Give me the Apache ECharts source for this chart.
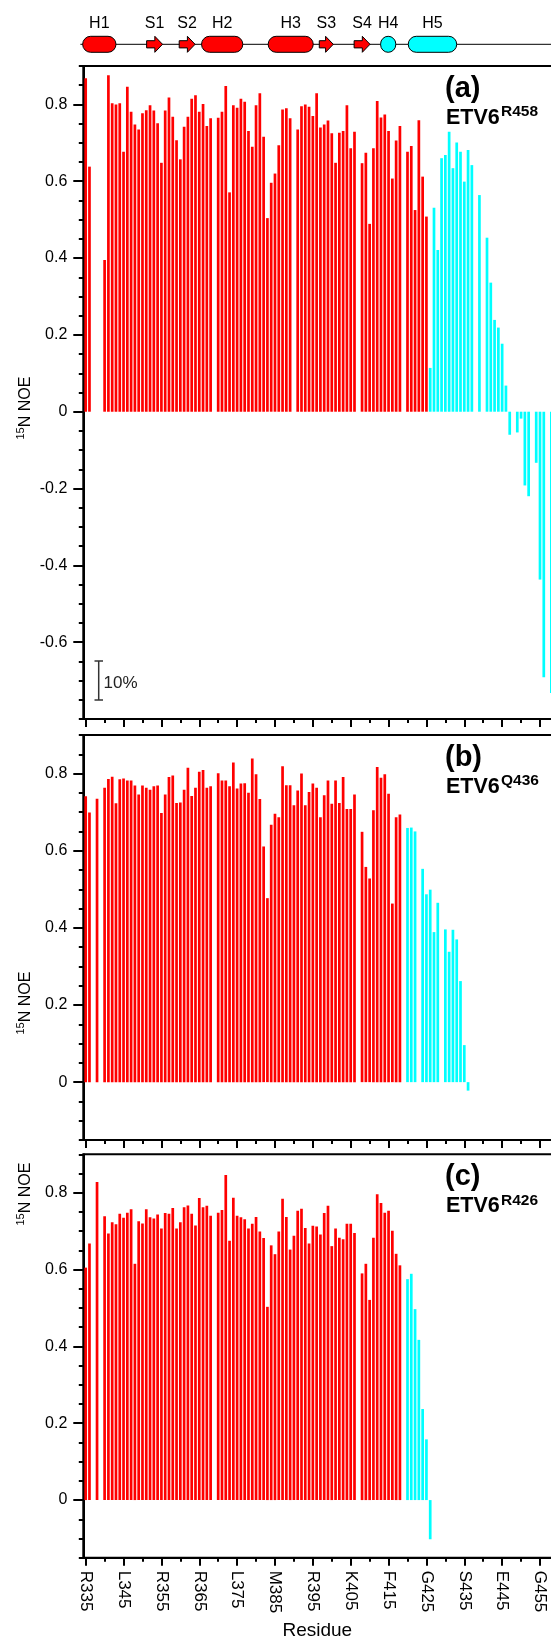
<!DOCTYPE html>
<html>
<head>
<meta charset="utf-8">
<title>15N NOE</title>
<script src="https://cdn.jsdelivr.net/npm/echarts@6.0.0/dist/echarts.min.js"></script>
<style>
html,body{margin:0;padding:0;background:#ffffff;}
#chart{width:551px;height:1640px;}
</style>
</head>
<body>
<div id="chart"></div>
<script>
// ================= DATA =================
const firstResidue = 335;
// 15N NOE per residue, starting at residue 335 (null = no data)
const noeR458 = [
  0.868, 0.638, null, null, null, 0.395, 0.876, 0.803, 0.800, 0.803,
  0.677, 0.846, 0.781, 0.748, 0.735, 0.777, 0.785, 0.798, 0.784, 0.751,
  0.648, 0.784, 0.818, 0.768, 0.707, 0.657, 0.742, 0.768, 0.815, 0.824,
  0.781, 0.801, 0.744, 0.764, null, 0.765, 0.781, 0.848, 0.571, 0.798,
  0.791, 0.815, 0.807, 0.731, 0.690, 0.798, 0.829, 0.716, 0.504, 0.596,
  0.620, 0.694, 0.787, 0.790, 0.764, null, 0.735, 0.795, 0.800, 0.794,
  0.770, 0.829, 0.740, 0.748, 0.758, 0.725, 0.648, 0.726, 0.731, 0.798,
  0.686, 0.729, null, 0.647, 0.674, 0.489, 0.686, 0.809, 0.766, 0.774,
  0.731, 0.607, 0.706, 0.744, null, 0.677, 0.692, 0.525, 0.759, 0.612,
  0.508, 0.114, 0.531, 0.421, 0.660, 0.668, 0.729, 0.634, 0.701, 0.677,
  0.599, 0.681, 0.642, null, 0.564, null, 0.453, 0.336, 0.239, 0.219,
  0.177, 0.068, -0.060, null, -0.054, -0.018, -0.192, -0.220, null, -0.133,
  -0.437, -0.691, null, -0.732
];
const noeQ436 = [
  0.741, 0.699, null, 0.735, null, 0.763, 0.786, 0.792, 0.723, 0.785,
  0.787, 0.782, 0.782, 0.769, 0.746, 0.769, 0.763, 0.758, 0.767, 0.769,
  0.698, 0.746, 0.791, 0.795, 0.724, 0.725, 0.758, 0.815, 0.742, 0.763,
  0.805, 0.809, 0.763, 0.767, null, 0.801, 0.782, 0.782, 0.767, 0.829,
  0.761, 0.774, 0.775, 0.750, 0.839, 0.798, 0.734, 0.611, 0.477, 0.667,
  0.696, 0.687, 0.819, 0.770, 0.770, 0.718, 0.756, 0.800, 0.718, 0.752,
  0.774, 0.763, 0.687, 0.744, 0.782, 0.722, 0.782, 0.724, 0.791, 0.708,
  0.708, 0.746, null, 0.649, 0.558, 0.528, 0.705, 0.817, 0.789, 0.798,
  0.748, 0.463, 0.687, 0.694, null, 0.659, 0.660, 0.650, null, 0.553,
  0.487, 0.499, 0.389, 0.465, null, 0.396, 0.338, 0.395, 0.370, 0.262,
  0.096, -0.022
];
const noeR426 = [
  0.605, 0.668, null, 0.828, null, 0.739, 0.694, 0.723, 0.718, 0.745,
  0.735, 0.748, 0.757, 0.615, 0.726, 0.720, 0.757, 0.736, 0.733, 0.743,
  0.707, 0.747, 0.745, 0.760, 0.707, 0.723, 0.762, 0.767, 0.745, 0.715,
  0.786, 0.762, 0.766, 0.740, null, 0.748, 0.755, 0.846, 0.675, 0.787,
  0.740, 0.736, 0.731, 0.707, 0.719, 0.737, 0.699, 0.682, 0.503, 0.663,
  0.640, 0.699, 0.784, 0.737, 0.652, 0.688, 0.753, 0.758, 0.708, 0.668,
  0.714, 0.712, 0.691, 0.747, 0.766, 0.661, 0.707, 0.683, 0.679, 0.719,
  0.719, 0.695, null, 0.590, 0.615, 0.521, 0.683, 0.796, 0.773, 0.748,
  0.753, 0.701, 0.641, 0.611, null, 0.575, 0.589, 0.497, 0.417, 0.237,
  0.158, -0.102
];
// first residue drawn in the C-terminal (cyan) colour, per construct
const cyanFromR458 = 426;
const cyanFromQ436 = 420;
const cyanFromR426 = 420;

const panelTags = ['(a)', '(b)', '(c)'];
const constructNames = ['R458', 'Q436', 'R426'];

const xTickResidues = [335, 345, 355, 365, 375, 385, 395, 405, 415, 425, 435, 445, 455];
const xTickLabels = ['R335', 'L345', 'R355', 'R365', 'L375', 'M385', 'R395', 'K405', 'F415', 'G425', 'S435', 'E445', 'G455'];
const xMinorTicks = [340, 350, 360, 370, 380, 390, 400, 410, 420, 430, 440, 450, 460];
const yLabelsA = [-0.6, -0.4, -0.2, 0, 0.2, 0.4, 0.6, 0.8];
const yLabelsBC = [0, 0.2, 0.4, 0.6, 0.8];

// secondary structure (residue ranges)
const ssLabels = ['H1', 'S1', 'S2', 'H2', 'H3', 'S3', 'S4', 'H4', 'H5'];
const ssStart  = [334.2, 351.1, 359.7, 365.6, 383.2, 396.7, 405.9, 412.9, 420.2];
const ssEnd    = [343.0, 355.3, 363.9, 376.5, 395.1, 400.4, 410.1, 416.9, 433.0];
const ssKind   = ['helix', 'strand', 'strand', 'helix', 'helix', 'strand', 'strand', 'helix', 'helix'];
const ssDomain = ['ets', 'ets', 'ets', 'ets', 'ets', 'ets', 'ets', 'cterm', 'cterm'];

// ================= LAYOUT / STYLE =================
const RED = '#FF0000', CYAN = '#00FFFF';
const FONT = '"Liberation Sans", Arial, Helvetica, sans-serif';
const X_MIN = 334.37, X_MAX = 460;
const PX_PER_RES = 3.786;
const LEFT = 83.3;
const GRID_W = (X_MAX - X_MIN) * PX_PER_RES;

function toPoints(arr, cyanFrom) {
  const pts = [];
  arr.forEach((v, i) => { if (v !== null) pts.push([firstResidue + i, v]); });
  return { pts, cyanFrom };
}

const panels = [
  { top: 66, height: 653, min: -0.8, max: 0.9, src: toPoints(noeR458, cyanFromR458), labels: yLabelsA, titleY: 408 },
  { top: 735, height: 405, min: -0.15, max: 0.9, src: toPoints(noeQ436, cyanFromQ436), labels: yLabelsBC, titleY: 1003 },
  { top: 1154.3, height: 403.4, min: -0.15, max: 0.9, src: toPoints(noeR426, cyanFromR426), labels: yLabelsBC, titleY: 1194 }
];

function minorY(min, max) {
  const out = [];
  for (let k = Math.round(min / 0.05); k <= Math.round(max / 0.05); k++) out.push(+(k * 0.05).toFixed(2));
  return out;
}

const axisLineStyle = { color: '#000', width: 2 };
const tickStyle = { color: '#000', width: 2 };

const grids = [], xAxes = [], yAxes = [], series = [], graphics = [];

panels.forEach((p, i) => {
  grids.push({ left: LEFT, top: p.top, width: GRID_W, height: p.height, show: true, borderColor: '#000', borderWidth: 2, backgroundColor: 'transparent', containLabel: false, outerBoundsMode: 'none' });
  xAxes.push({
    gridIndex: i, type: 'value', min: X_MIN, max: X_MAX, position: 'bottom',
    axisLine: { show: true, onZero: false, lineStyle: axisLineStyle },
    axisTick: { show: true, length: 8, customValues: xTickResidues, lineStyle: tickStyle },
    axisLabel: {
      show: i === 2, customValues: xTickResidues, rotate: -90, margin: 13,
      fontSize: 17, fontFamily: FONT, color: '#000',
      formatter: v => { const k = xTickResidues.indexOf(Math.round(v)); return k >= 0 ? xTickLabels[k] : ''; }
    },
    splitLine: { show: false }
  });
  xAxes.push({
    gridIndex: i, type: 'value', min: X_MIN, max: X_MAX, position: 'bottom',
    axisLine: { show: false, onZero: false },
    axisTick: { show: true, length: 4, customValues: xMinorTicks, lineStyle: tickStyle },
    axisLabel: { show: false }, splitLine: { show: false }
  });
  yAxes.push({
    gridIndex: i, type: 'value', min: p.min, max: p.max, position: 'left',
    axisLine: { show: true, onZero: false, lineStyle: axisLineStyle },
    axisTick: { show: true, length: 10, customValues: p.labels, lineStyle: tickStyle },
    axisLabel: {
      show: true, customValues: p.labels, margin: 16, fontSize: 16, fontFamily: FONT, color: '#000',
      formatter: v => String(+(+v).toFixed(2))
    },
    splitLine: { show: false }
  });
  yAxes.push({
    gridIndex: i, type: 'value', min: p.min, max: p.max, position: 'left',
    axisLine: { show: false, onZero: false },
    axisTick: { show: true, length: 4.5, customValues: minorY(p.min, p.max), lineStyle: tickStyle },
    axisLabel: { show: false }, splitLine: { show: false }
  });
  const cyanFrom = p.src.cyanFrom;
  series.push({
    type: 'bar', xAxisIndex: 2 * i, yAxisIndex: 2 * i, data: p.src.pts,
    barWidth: 2.7, silent: true, animation: false,
    itemStyle: { color: prm => (prm.value[0] >= cyanFrom ? CYAN : RED) }
  });

  // panel tag and construct label
  graphics.push({ type: 'text', x: 445, y: p.top + 23, style: { text: panelTags[i], font: 'bold 29px ' + FONT, fill: '#000', align: 'left', verticalAlign: 'middle', textAlign: 'left', textVerticalAlign: 'middle' } });
  graphics.push({ type: 'text', x: 446, y: p.top + 52, style: { text: 'ETV6', font: 'bold 21.5px ' + FONT, fill: '#000', align: 'left', verticalAlign: 'middle', textAlign: 'left', textVerticalAlign: 'middle' } });
  graphics.push({ type: 'text', x: 501, y: p.top + 46, style: { text: constructNames[i], font: 'bold 15.5px ' + FONT, fill: '#000', align: 'left', verticalAlign: 'middle', textAlign: 'left', textVerticalAlign: 'middle' } });

  // y axis title 15N NOE (rotated)
  graphics.push({
    type: 'group', x: 25.5, y: p.titleY, rotation: Math.PI / 2,
    children: [
      { type: 'text', x: -31.5, y: -5, style: { text: '15', font: '11px ' + FONT, fill: '#000', align: 'left', verticalAlign: 'middle', textAlign: 'left', textVerticalAlign: 'middle' } },
      { type: 'text', x: -19.3, y: 0, style: { text: 'N NOE', font: '16px ' + FONT, fill: '#000', align: 'left', verticalAlign: 'middle', textAlign: 'left', textVerticalAlign: 'middle' } }
    ]
  });
});

// secondary-structure strip
grids.push({ left: LEFT, top: 36.3, width: GRID_W, height: 16, show: false, containLabel: false, outerBoundsMode: 'none' });
xAxes.push({ gridIndex: 3, type: 'value', min: X_MIN, max: X_MAX, show: false });
yAxes.push({ gridIndex: 3, type: 'value', min: 0, max: 1, show: false });

function renderSS(params, api) {
  const i = params.dataIndex;
  const p1 = api.coord([api.value(0), 0.5]);
  const p2 = api.coord([api.value(1), 0.5]);
  const x1 = p1[0], x2 = p2[0], yc = p1[1];
  const fill = ssDomain[i] === 'ets' ? RED : CYAN;
  const kids = [];
  if (i === 0) {
    kids.push({ type: 'line', shape: { x1: api.coord([333.6, 0.5])[0], y1: yc, x2: api.coord([X_MAX, 0.5])[0], y2: yc }, style: { stroke: '#000', lineWidth: 1 } });
  }
  if (ssKind[i] === 'helix') {
    const h = 16, w = x2 - x1;
    kids.push({ type: 'rect', shape: { x: x1, y: yc - h / 2, width: w, height: h, r: Math.min(h, w) / 2 }, style: { fill: fill, stroke: '#000', lineWidth: 1 } });
  } else {
    const hx = x2 - 7.7;
    kids.push({ type: 'polygon', shape: { points: [[x1, yc - 3.6], [hx, yc - 3.6], [hx, yc - 8], [x2, yc], [hx, yc + 8], [hx, yc + 3.6], [x1, yc + 3.6]] }, style: { fill: fill, stroke: '#000', lineWidth: 1 } });
  }
  kids.push({ type: 'text', x: (x1 + x2) / 2, y: yc - 21, style: { text: ssLabels[i], font: '16px ' + FONT, fill: '#000', align: 'center', verticalAlign: 'middle', textAlign: 'center', textVerticalAlign: 'middle' } });
  return { type: 'group', children: kids };
}

series.push({
  type: 'custom', xAxisIndex: 6, yAxisIndex: 6, silent: true, animation: false,
  data: ssStart.map((s, i) => [s, ssEnd[i]]),
  renderItem: renderSS
});

// 10% scale bar in panel (a)
const sbStyle = { stroke: '#333', lineWidth: 1.5 };
graphics.push({ type: 'line', shape: { x1: 98.7, y1: 661, x2: 98.7, y2: 700 }, style: sbStyle });
graphics.push({ type: 'line', shape: { x1: 94.5, y1: 661, x2: 103, y2: 661 }, style: sbStyle });
graphics.push({ type: 'line', shape: { x1: 94.5, y1: 700, x2: 103, y2: 700 }, style: sbStyle });
graphics.push({ type: 'text', x: 103.5, y: 683, style: { text: '10%', font: '17px ' + FONT, fill: '#222', align: 'left', verticalAlign: 'middle', textAlign: 'left', textVerticalAlign: 'middle' } });

// x axis title
graphics.push({ type: 'text', x: 317.3, y: 1631, style: { text: 'Residue', font: '19px ' + FONT, fill: '#000', align: 'center', verticalAlign: 'middle', textAlign: 'center', textVerticalAlign: 'middle' } });

const chart = echarts.init(document.getElementById('chart'), null, { renderer: 'canvas' });
chart.setOption({
  animation: false,
  backgroundColor: '#ffffff',
  textStyle: { fontFamily: FONT },
  grid: grids,
  xAxis: xAxes,
  yAxis: yAxes,
  series: series,
  graphic: { elements: graphics }
});
</script>
</body>
</html>
